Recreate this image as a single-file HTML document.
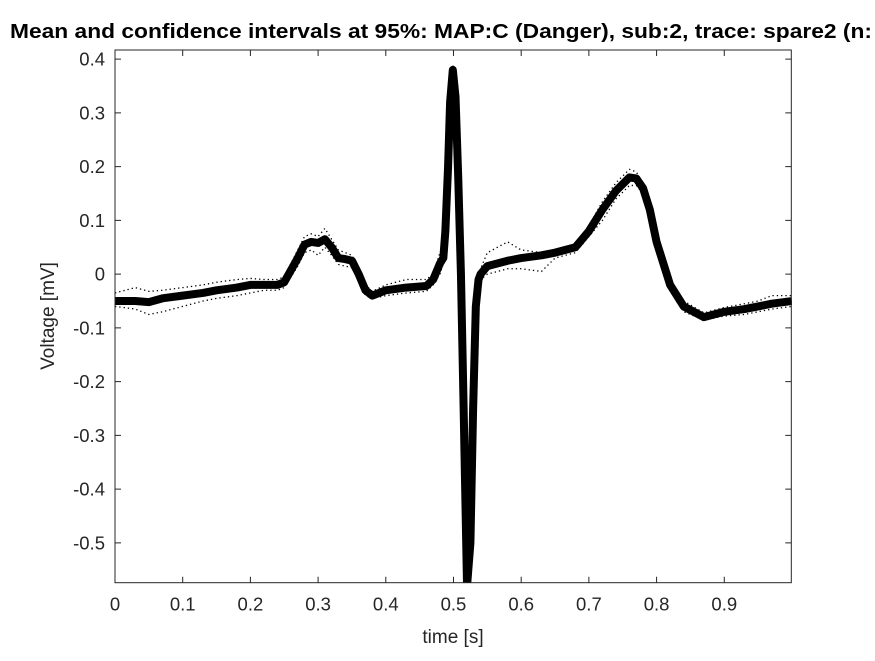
<!DOCTYPE html>
<html><head><meta charset="utf-8"><style>
body{margin:0;background:#fff;font-family:"Liberation Sans",Arial,sans-serif;overflow:hidden;}
svg text{font-family:"Liberation Sans",Arial,sans-serif;}
</style></head><body>
<svg id="chart" width="875" height="656" viewBox="0 0 875 656" xmlns="http://www.w3.org/2000/svg">
<rect x="0" y="0" width="875" height="656" fill="#fff"/>
<text x="10" y="38" font-size="20" font-weight="bold" fill="#000" textLength="862" lengthAdjust="spacingAndGlyphs">Mean and confidence intervals at 95%: MAP:C (Danger), sub:2, trace: spare2 (n:</text>
<defs><clipPath id="pc"><rect x="115" y="50" width="677" height="533"/></clipPath></defs>
<g id="ci" clip-path="url(#pc)"></g>
<g id="mean" clip-path="url(#pc)"></g>
<g id="axes"></g>
<text x="453" y="643" font-size="19" text-anchor="middle" fill="#262626">time [s]</text>
<text transform="translate(54,316) rotate(-90)" font-size="19" text-anchor="middle" fill="#262626">Voltage [mV]</text>
</svg>
<script>
const times = [0,0.03,0.05,0.07,0.1,0.13,0.15,0.18,0.2,0.22,0.24,0.25,0.27,0.28,0.29,0.3,0.31,0.32,0.33,0.34,0.35,0.36,0.37,0.38,0.4,0.43,0.46,0.47,0.48,0.485,0.488,0.492,0.495,0.499,0.503,0.507,0.511,0.515,0.52,0.525,0.529,0.533,0.537,0.54,0.55,0.58,0.6,0.63,0.65,0.68,0.7,0.72,0.74,0.76,0.77,0.78,0.79,0.8,0.82,0.84,0.87,0.9,0.93,0.95,0.97,1.0];
const meanV = [-0.05,-0.05,-0.052,-0.045,-0.04,-0.035,-0.03,-0.025,-0.02,-0.02,-0.02,-0.015,0.03,0.055,0.06,0.058,0.065,0.05,0.03,0.028,0.025,0.0,-0.03,-0.04,-0.03,-0.025,-0.022,-0.01,0.02,0.03,0.08,0.2,0.32,0.38,0.33,0.18,0.0,-0.25,-0.58,-0.5,-0.25,-0.06,-0.01,0.0,0.015,0.025,0.03,0.035,0.04,0.05,0.08,0.12,0.155,0.18,0.178,0.16,0.12,0.06,-0.02,-0.06,-0.08,-0.07,-0.065,-0.06,-0.055,-0.05];
const upperV = [-0.035,-0.025,-0.032,-0.03,-0.025,-0.02,-0.015,-0.01,-0.008,-0.01,-0.01,-0.005,0.045,0.07,0.075,0.07,0.085,0.065,0.045,0.04,0.035,0.01,-0.02,-0.032,-0.02,-0.01,-0.01,0.0,0.04,0.05,0.09,0.21,0.33,0.39,0.34,0.19,0.01,-0.24,-0.57,-0.49,-0.24,-0.05,0.0,0.01,0.04,0.06,0.045,0.04,0.045,0.055,0.09,0.135,0.17,0.195,0.19,0.17,0.13,0.065,-0.01,-0.05,-0.072,-0.062,-0.055,-0.05,-0.04,-0.04];
const lowerV = [-0.06,-0.065,-0.075,-0.07,-0.06,-0.05,-0.045,-0.04,-0.035,-0.03,-0.03,-0.025,0.015,0.04,0.045,0.035,0.05,0.035,0.018,0.015,0.012,-0.01,-0.04,-0.045,-0.04,-0.035,-0.032,-0.02,0.0,0.02,0.07,0.19,0.31,0.37,0.32,0.17,-0.01,-0.26,-0.59,-0.51,-0.26,-0.07,-0.02,-0.01,0.0,0.01,0.01,0.005,0.03,0.04,0.07,0.1,0.14,0.165,0.165,0.15,0.11,0.05,-0.03,-0.07,-0.085,-0.078,-0.075,-0.07,-0.065,-0.06];
const xTicks = [0,0.1,0.2,0.3,0.4,0.5,0.6,0.7,0.8,0.9];
const xTickLabels = ["0","0.1","0.2","0.3","0.4","0.5","0.6","0.7","0.8","0.9"];
const yTicks = [0.4,0.3,0.2,0.1,0,-0.1,-0.2,-0.3,-0.4,-0.5];
const yTickLabels = ["0.4","0.3","0.2","0.1","0","-0.1","-0.2","-0.3","-0.4","-0.5"];

const X0=115, X1=791.3, Y0=50, Y1=582.7;
const xmin=0, xmax=0.999, ymin=-0.574, ymax=0.417;
const sx = t => X0 + (t-xmin)/(xmax-xmin)*(X1-X0);
const sy = v => Y1 - (v-ymin)/(ymax-ymin)*(Y1-Y0);
const NS="http://www.w3.org/2000/svg";
function pathFor(vals){return vals.map((v,i)=>(i?'L':'M')+sx(times[i]).toFixed(2)+','+sy(v).toFixed(2)).join(' ');}

const ci=document.getElementById('ci');
[[upperV,'ci-upper'],[lowerV,'ci-lower']].forEach(([arr,nm])=>{
  const p=document.createElementNS(NS,'path');
  
  
  p.setAttribute('d',pathFor(arr));
  p.setAttribute('fill','none');p.setAttribute('stroke','#000');
  p.setAttribute('stroke-width','1.3');p.setAttribute('stroke-dasharray','1.3 3');
  ci.appendChild(p);
});
const m=document.createElementNS(NS,'path');


m.setAttribute('d',pathFor(meanV));
m.setAttribute('fill','none');m.setAttribute('stroke','#000');
m.setAttribute('stroke-width','8');m.setAttribute('stroke-linejoin','round');
document.getElementById('mean').appendChild(m);

const ax=document.getElementById('axes');
const box=document.createElementNS(NS,'rect');


box.setAttribute('x',X0);box.setAttribute('y',Y0);box.setAttribute('width',X1-X0);box.setAttribute('height',Y1-Y0);
box.setAttribute('fill','none');box.setAttribute('stroke','#262626');box.setAttribute('stroke-width','1');
ax.appendChild(box);
xTicks.forEach((t,i)=>{
  const x=sx(t);
  const l=document.createElementNS(NS,'path');
  
  
  l.setAttribute('d',`M${x},${Y1}V${Y1-6}M${x},${Y0}V${Y0+6}`);
  l.setAttribute('stroke','#262626');ax.appendChild(l);
  const tx=document.createElementNS(NS,'text');
  
  
  tx.setAttribute('x',x);tx.setAttribute('y',Y1+28);tx.setAttribute('font-size','18.5');
  tx.setAttribute('text-anchor','middle');tx.setAttribute('fill','#262626');
  tx.textContent=xTickLabels[i];ax.appendChild(tx);
});
yTicks.forEach((v,i)=>{
  const y=sy(v);
  const l=document.createElementNS(NS,'path');
  
  
  l.setAttribute('d',`M${X0},${y}H${X0+6}M${X1},${y}H${X1-6}`);
  l.setAttribute('stroke','#262626');ax.appendChild(l);
  const tx=document.createElementNS(NS,'text');
  
  
  tx.setAttribute('x',X0-10);tx.setAttribute('y',y+6.5);tx.setAttribute('font-size','18.5');
  tx.setAttribute('text-anchor','end');tx.setAttribute('fill','#262626');
  tx.textContent=yTickLabels[i];ax.appendChild(tx);
});
</script>
</body></html>
